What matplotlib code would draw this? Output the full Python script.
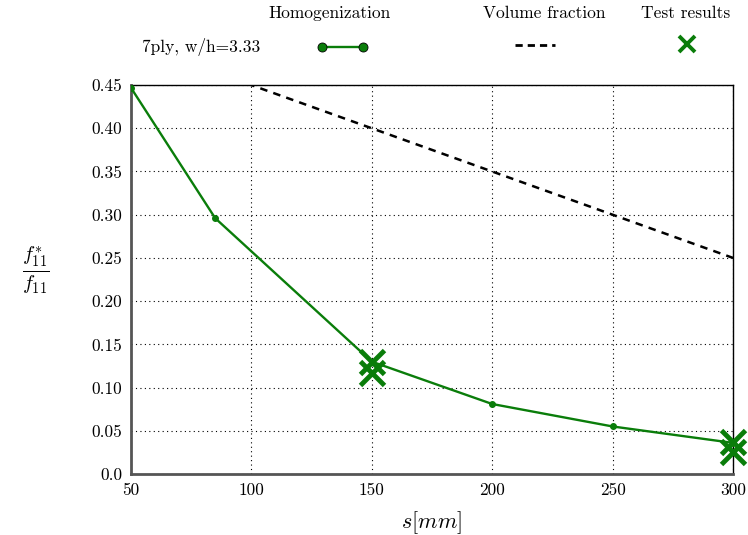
import matplotlib
matplotlib.use('Agg')
import matplotlib.pyplot as plt
from matplotlib.lines import Line2D

plt.rcParams['font.family'] = ['cmr10', 'DejaVu Serif']
plt.rcParams['mathtext.fontset'] = 'cm'
plt.rcParams['axes.unicode_minus'] = False

# homogenization results
s_hom = [50, 85, 150, 200, 250, 300]
f_hom = [0.447, 0.296, 0.13, 0.081, 0.055, 0.036]

# volume fraction
s_vf = [50, 100, 150, 200, 250, 300]
f_vf = [0.50, 0.45, 0.40, 0.35, 0.30, 0.25]

# test results
s_test = [150, 150, 300, 300]
f_test = [0.13, 0.117, 0.037, 0.025]

yticks = [0.0, 0.05, 0.10, 0.15, 0.20, 0.25, 0.30, 0.35, 0.40, 0.45]
ylabels = ['0.0', '0.05', '0.10', '0.15', '0.20', '0.25', '0.30', '0.35', '0.40', '0.45']
xticks = [50, 100, 150, 200, 250, 300]

green = '#0a7d0a'

fig = plt.figure(figsize=(7.48, 5.35), dpi=100)
ax = fig.add_axes([0.175, 0.114, 0.805, 0.727])

ax.plot(s_hom, f_hom, color=green, lw=1.7, marker='o', ms=4, zorder=3)
ax.plot(s_vf, f_vf, color='black', lw=1.8, ls=(0, (3, 2.5)), zorder=2)
ax.plot(s_test, f_test, ls='none', marker='x', ms=17, mew=3.5, color=green, zorder=4, clip_on=False)

ax.set_xlim(50, 300)
ax.set_ylim(0, 0.45)
ax.set_xticks(xticks)
ax.set_yticks(yticks)
ax.set_yticklabels(ylabels)
ax.grid(True, color='black', ls=(0, (1, 3)), lw=0.8)
ax.tick_params(length=0, labelsize=12.5, pad=6)
for sp in ax.spines.values():
    sp.set_linewidth(1.0)
ax.spines['left'].set_linewidth(2.0)
ax.spines['left'].set_color('#555555')
ax.spines['bottom'].set_linewidth(2.0)
ax.spines['bottom'].set_color('#555555')

ax.set_xlabel('$s[mm]$', fontsize=16, labelpad=8)
fig.text(0.048, 0.495, r'$\frac{f_{11}^{*}}{f_{11}}$', fontsize=21, ha='center', va='center')

# table-like legend at top
fs = 12.5
fig.text(0.441, 0.975, 'Homogenization', fontsize=fs, ha='center', va='center')
fig.text(0.727, 0.975, 'Volume fraction', fontsize=fs, ha='center', va='center')
fig.text(0.916, 0.975, 'Test results', fontsize=fs, ha='center', va='center')
fig.text(0.19, 0.912, '7ply, w/h=3.33', fontsize=fs, ha='left', va='center')
fig.add_artist(Line2D([0.43, 0.485], [0.912, 0.912], transform=fig.transFigure,
                      color=green, lw=1.7, marker='o', ms=6.5, mec='black', mew=0.6))
fig.add_artist(Line2D([0.689, 0.742], [0.915, 0.915], transform=fig.transFigure,
                      color='black', lw=2.0, ls=(0, (2.6, 1.8))))
fig.add_artist(Line2D([0.918], [0.918], transform=fig.transFigure,
                      color=green, ls='none', marker='x', ms=12, mew=2.8))

fig.savefig('out.png', dpi=100)
